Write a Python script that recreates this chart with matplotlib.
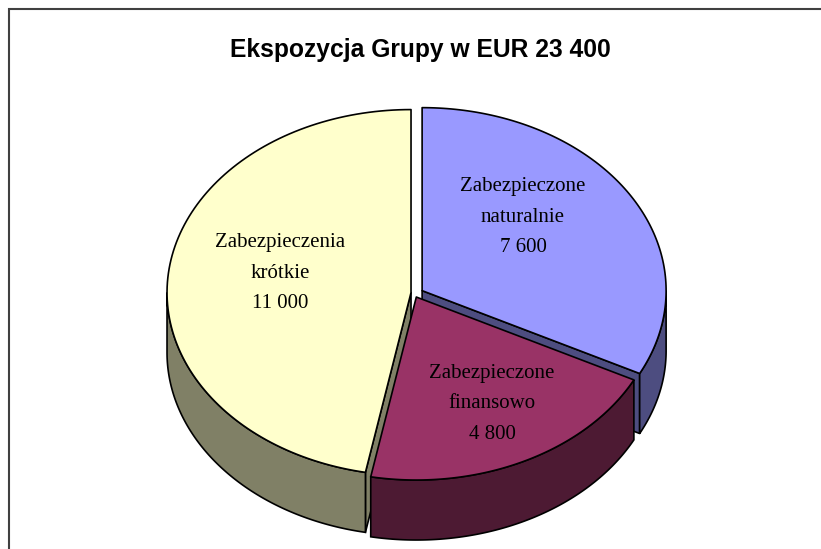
import matplotlib
matplotlib.use('Agg')
import matplotlib.pyplot as plt
from matplotlib.patches import Polygon
import numpy as np

title = 'Ekspozycja Grupy w EUR 23 400'
labels = ['Zabezpieczone\nnaturalnie\n7 600', 'Zabezpieczone\nfinansowo\n4 800', 'Zabezpieczenia\nkrótkie\n11 000']
values = [7600, 4800, 11000]
top_colors = ['#9999ff', '#993366', '#ffffcc']
side_colors = ['#4d4d80', '#4d1a33', '#808066']

# pie geometry, in pixels of the picture
center_x = 417
center_y = 293
radius_x = 244
radius_y = 183
depth = 60
explode = [6, 3, 6]
squash = radius_y / radius_x
label_pos = [(523, 217), (492, 404), (280, 273)]
edge = '#000000'


def arc(cx, cy, a1, a2):
    t = np.radians(np.linspace(a1, a2, 120))
    return np.column_stack([cx + radius_x * np.cos(t), cy - radius_y * np.sin(t)])


def draw_wall(cx, cy, a, normal, color):
    # flat cut face of a slice, skipped when it looks away from the viewer
    if np.sin(np.radians(normal)) > -1e-6:
        return
    end = arc(cx, cy, a, a)[0]
    wall = [(cx, cy), end, (end[0], end[1] + depth), (cx, cy + depth)]
    ax.add_patch(Polygon(wall, closed=True, fc=color, ec=edge, lw=1.2, joinstyle='round'))


fig = plt.figure(figsize=(8.21, 5.49), dpi=100)
ax = fig.add_axes([0, 0, 1, 1])
ax.set_xlim(0, 821)
ax.set_ylim(549, 0)
ax.axis('off')

# chart frame runs off the right and bottom of the picture
ax.plot([8.5, 8.5, 830], [560, 8.5, 8.5], color='#404040', lw=1.5, solid_joinstyle='miter')

angles = 90 - np.cumsum([0] + values) / np.sum(values) * 360
# blue first, then yellow, maroon on top
for i in [0, 2, 1]:
    a1, a2 = angles[i], angles[i + 1]
    mid = np.radians((a1 + a2) / 2)
    cx = center_x + explode[i] * np.cos(mid)
    cy = center_y - explode[i] * np.sin(mid) * squash
    if i == 1:
        # maroon slice sits a bit left of where the explode would put it
        cx -= 2
        cy += 2

    draw_wall(cx, cy, a1, a1 + 90, side_colors[i])
    draw_wall(cx, cy, a2, a2 - 90, side_colors[i])

    # outer wall, only the part facing the viewer
    lo = max(a2, -180)
    hi = min(a1, 0)
    if hi > lo:
        rim = arc(cx, cy, hi, lo)
        low = rim[::-1] + [0, depth]
        ax.add_patch(Polygon(np.vstack([rim, low]), closed=True, fc=side_colors[i], ec=edge, lw=1.2))

    top = np.vstack([[cx, cy], arc(cx, cy, a1, a2)])
    ax.add_patch(Polygon(top, closed=True, fc=top_colors[i], ec=edge, lw=1.2, joinstyle='round'))

    ax.text(label_pos[i][0], label_pos[i][1], labels[i], ha='center', va='center', ma='center',
            family='Liberation Serif', fontsize=15, linespacing=1.8, color='#000000')

ax.text(420, 50, title, ha='center', va='center', family='Liberation Sans',
        fontweight='bold', fontsize=17.7, color='#000000')

plt.savefig('out.png', dpi=100)
